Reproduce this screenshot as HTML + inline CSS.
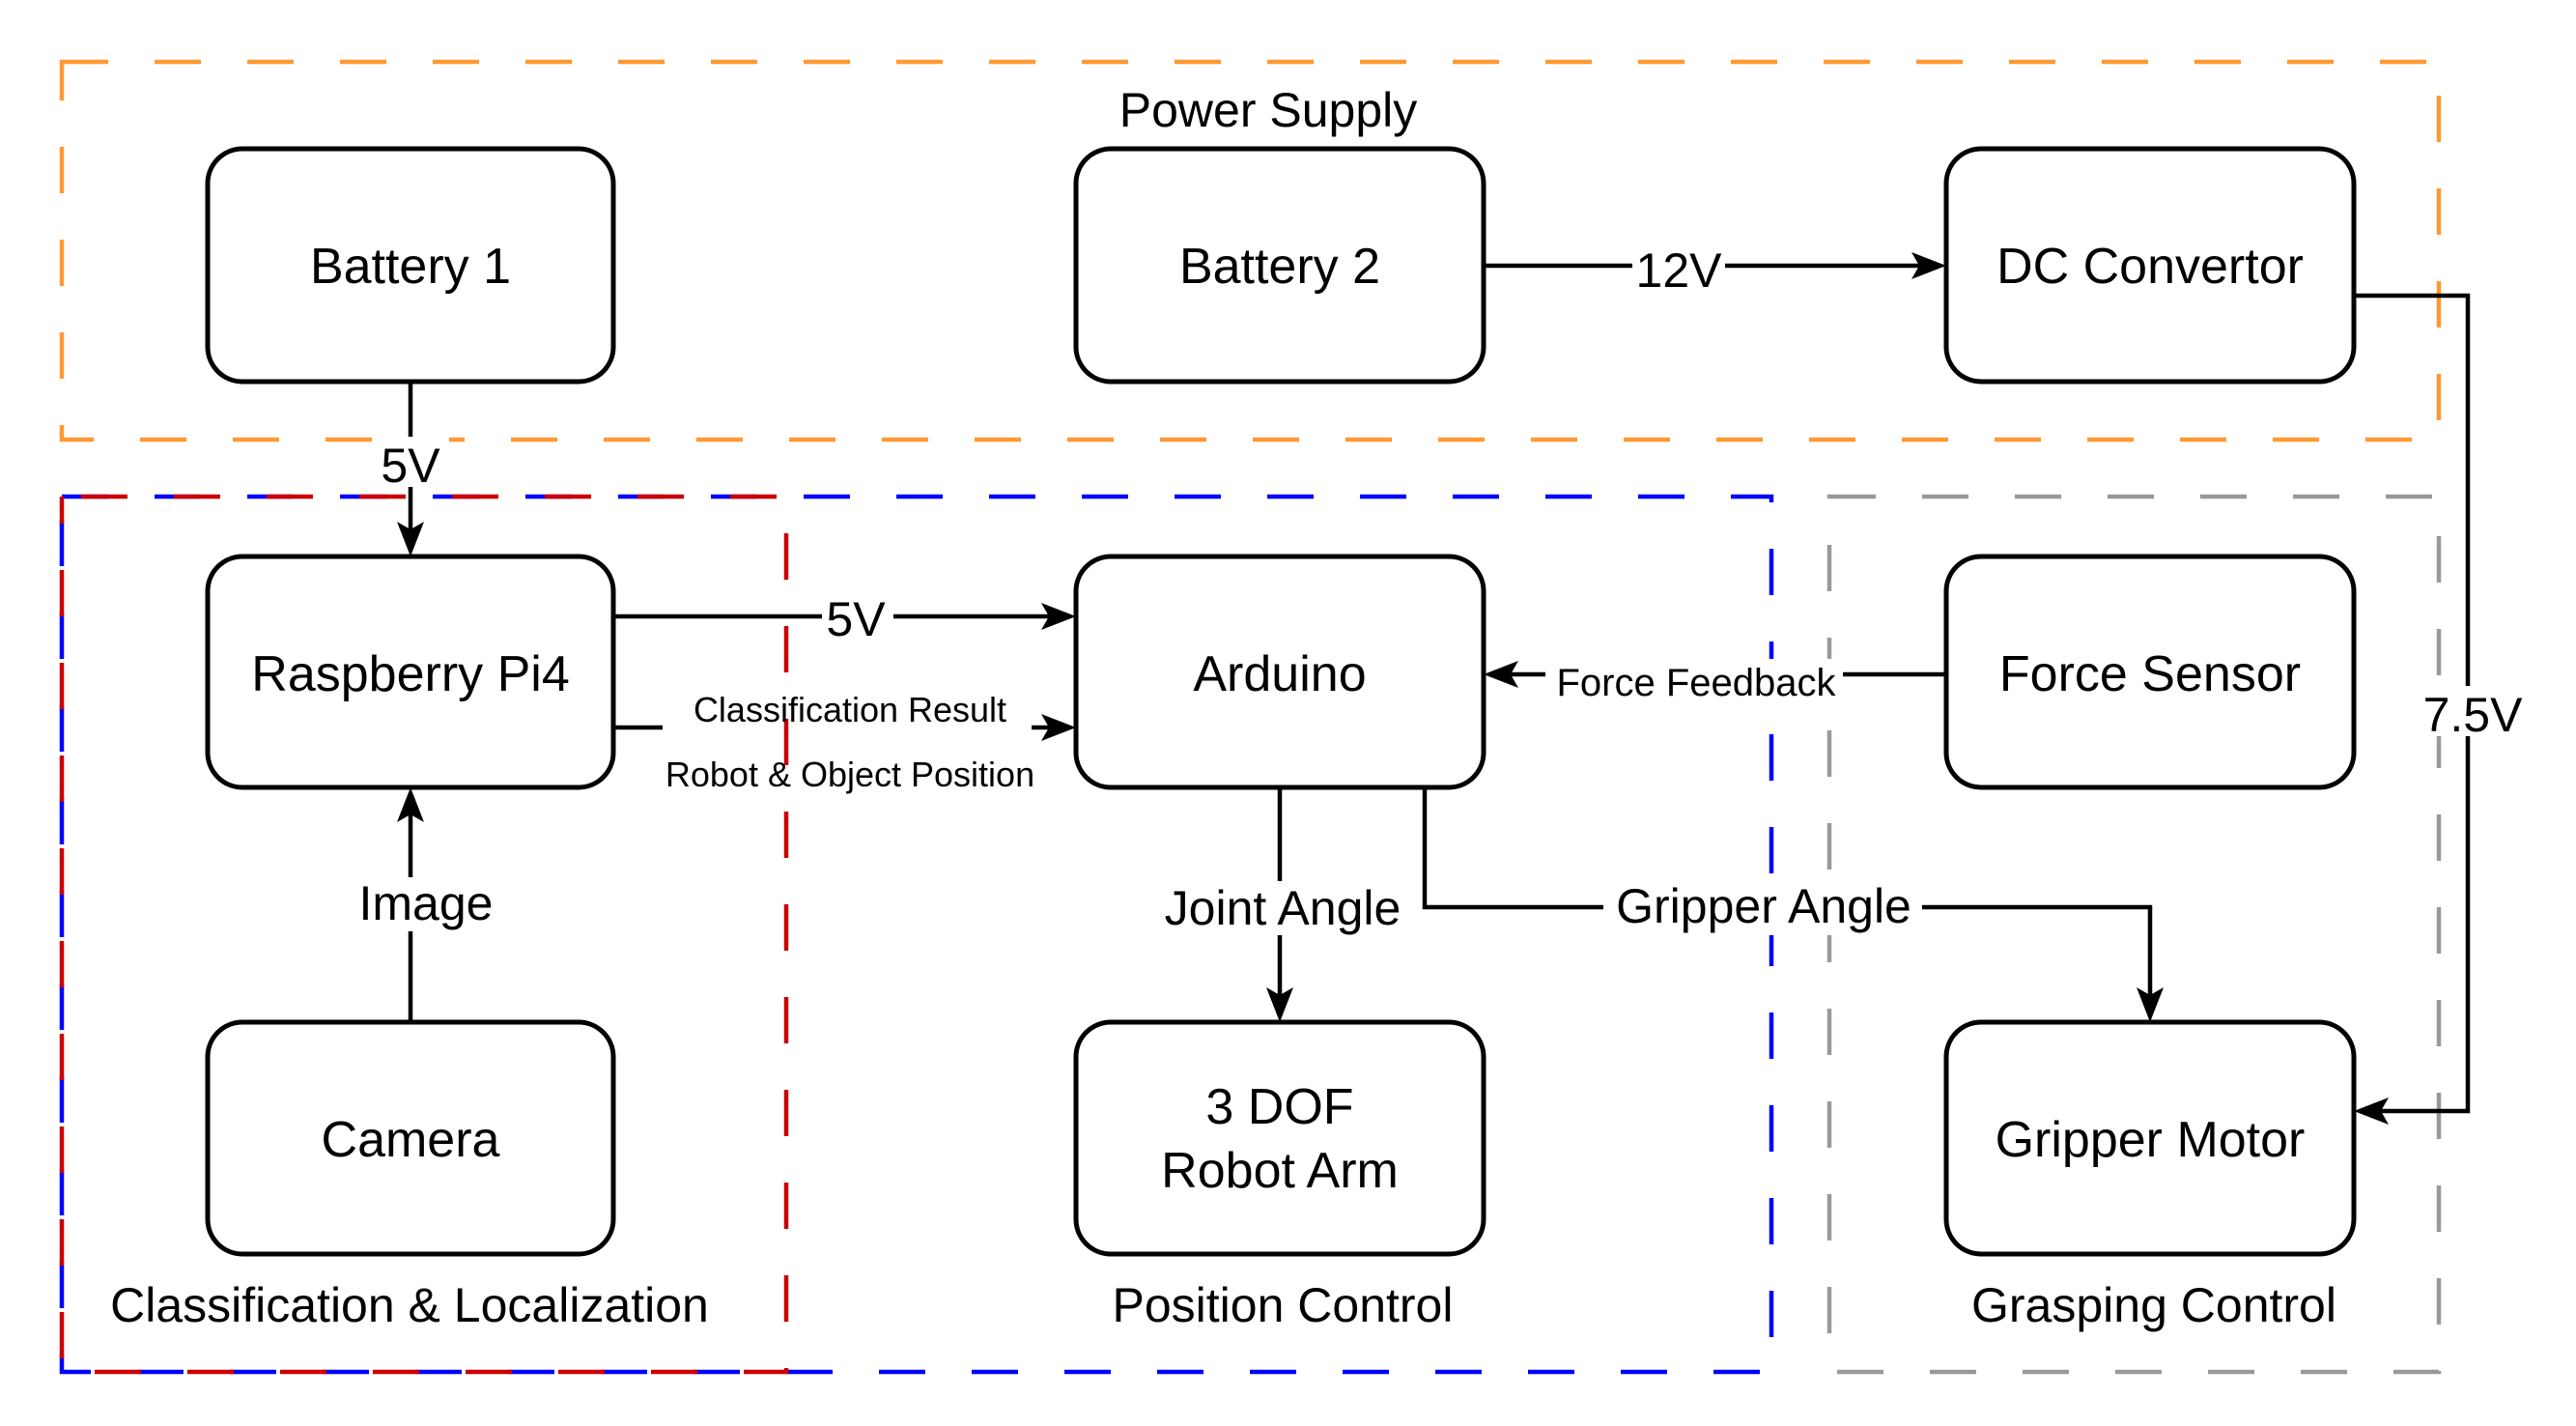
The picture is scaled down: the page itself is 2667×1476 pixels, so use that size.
<!DOCTYPE html>
<html><head><meta charset="utf-8"><style>
html,body{margin:0;padding:0;background:#fff;}
svg{display:block;font-family:"Liberation Sans",sans-serif;}
</style></head><body>
<svg width="2667" height="1476" viewBox="0 0 2667 1476" xmlns="http://www.w3.org/2000/svg">
<g fill="none" stroke-width="4.5">
<rect x="64" y="64" width="2461" height="391" stroke="#FF9933" stroke-dasharray="48 48"/>
<rect x="1894" y="514" width="631" height="906" stroke="#999999" stroke-dasharray="48 48"/>
<rect x="64" y="514" width="1770" height="906" stroke="#0000FF" stroke-dasharray="48 48"/>
<rect x="64" y="514" width="750" height="906" stroke="#CC0000" stroke-dasharray="48 48" stroke-dashoffset="-20"/>
</g>
<g fill="#fff" stroke="#000" stroke-width="5">
<rect x="215" y="154" width="420" height="241" rx="36"/>
<rect x="1114" y="154" width="422" height="241" rx="36"/>
<rect x="2015" y="154" width="422" height="241" rx="36"/>
<rect x="215" y="576" width="420" height="239" rx="36"/>
<rect x="1114" y="576" width="422" height="239" rx="36"/>
<rect x="2015" y="576" width="422" height="239" rx="36"/>
<rect x="215" y="1058" width="420" height="240" rx="36"/>
<rect x="1114" y="1058" width="422" height="240" rx="36"/>
<rect x="2015" y="1058" width="422" height="240" rx="36"/>
</g>
<g fill="none" stroke="#000" stroke-width="4.5">
<path d="M425 395V560"/>
<path d="M1536 275H1999"/>
<path d="M2437 306H2555V1150H2453"/>
<path d="M635 638H1098"/>
<path d="M635 753H686M1068 753H1098"/>
<path d="M2015 698H1552"/>
<path d="M1325 815V1042"/>
<path d="M1475 815V939H2226V1042"/>
<path d="M425 1058V830"/>
</g>
<g fill="#000">
<path d="M425 576l-14-36 14 8 14-8z"/>
<path d="M2015 275l-36-14 8 14-8 14z"/>
<path d="M2437 1150l36-14-8 14 8 14z"/>
<path d="M1114 638l-36-14 8 14-8 14z"/>
<path d="M1114 753l-36-14 8 14-8 14z"/>
<path d="M1536 698l36-14-8 14 8 14z"/>
<path d="M1325 1058l-14-36 14 8 14-8z"/>
<path d="M2226 1058l-14-36 14 8 14-8z"/>
<path d="M425 815l-14 36 14-8 14 8z"/>
</g>
<g font-size="52" text-anchor="middle" fill="#000">
<text x="425" y="293">Battery 1</text>
<text x="1325" y="293">Battery 2</text>
<text x="2226" y="293">DC Convertor</text>
<text x="425" y="715">Raspberry Pi4</text>
<text x="1325" y="715">Arduino</text>
<text x="2226" y="715">Force Sensor</text>
<text x="425" y="1197">Camera</text>
<text x="1325" y="1163">3 DOF</text>
<text x="1325" y="1229">Robot Arm</text>
<text x="2226" y="1197">Gripper Motor</text>
</g>
<g font-size="50" text-anchor="middle" fill="#000">
<rect x="385" y="452" width="80" height="52" fill="#fff"/>
<text x="425" y="499">5V</text>
<rect x="1690" y="250" width="96" height="52" fill="#fff"/>
<text x="1738" y="297">12V</text>
<rect x="2505" y="710" width="100" height="52" fill="#fff"/>
<text x="2560" y="757">7.5V</text>
<rect x="851" y="612" width="74" height="52" fill="#fff"/>
<text x="886" y="658">5V</text>
<rect x="1198" y="912" width="252" height="56" fill="#fff"/>
<text x="1328" y="957">Joint Angle</text>
<rect x="1660" y="912" width="330" height="56" fill="#fff"/>
<text x="1826" y="955">Gripper Angle</text>
<rect x="365" y="908" width="120" height="56" fill="#fff"/>
<text x="441" y="952">Image</text>
<text x="1313" y="131">Power Supply</text>
<text x="424" y="1368">Classification &amp; Localization</text>
<text x="1328" y="1368">Position Control</text>
<text x="2230" y="1368">Grasping Control</text>
</g>
<g font-size="36" text-anchor="middle" fill="#000">
<text x="880" y="747">Classification Result</text>
<text x="880" y="814">Robot &amp; Object Position</text>
</g>
<rect x="1600" y="682" width="308" height="44" fill="#fff"/>
<text x="1756" y="720" font-size="40" text-anchor="middle" fill="#000">Force Feedback</text>
</svg>
</body></html>
